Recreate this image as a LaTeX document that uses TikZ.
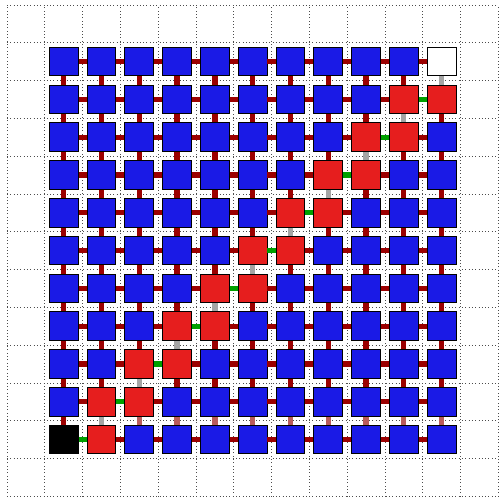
\documentclass[tikz,border=0pt]{standalone}
\definecolor{cellblue}{RGB}{26,26,230}
\definecolor{cellred}{RGB}{230,30,30}
\definecolor{linkred}{RGB}{155,0,0}
\definecolor{linkpale}{RGB}{185,92,92}
\definecolor{linkgreen}{RGB}{0,160,0}
\definecolor{linkgray}{RGB}{165,165,165}
\tikzset{
	cell/.style = {draw = black, line width = 0.7pt, minimum size = 0.76cm, inner sep = 0pt},
	link/.style = {line width = 0.14cm},
}
\begin{document}
\begin{tikzpicture}
		\useasboundingbox (-0.185,-0.10) rectangle (13.02,13.13);
		\draw [dotted, black!70, line width = 0.5pt] (0,0) grid (13,13);
		% squares, row 1 on top
		\foreach \r in {1,...,11} {
			\foreach \c in {1,...,11} {
				\pgfmathsetmacro{\tone}{ifthenelse(\r==1 && \c==11, "white", ifthenelse(\r==11 && \c==1, "black", ifthenelse(\c+\r==12 || \c+\r==13, "cellred", "cellblue")))}
				\node [cell, fill = \tone] (c\c-\r) at (\c+0.5, 12.5-\r) {};
			}
		}
		% links along rows
		\foreach \r in {1,...,11} {
			\foreach \c in {1,...,10} {
				\pgfmathtruncatemacro{\n}{\c+1}
				\pgfmathsetmacro{\hue}{ifthenelse(\c+\r==12, "linkgreen", "linkred")}
				\draw [link, \hue] (c\c-\r) -- (c\n-\r);
			}
		}
		% links along columns
		\foreach \r in {1,...,10} {
			\foreach \c in {1,...,11} {
				\pgfmathtruncatemacro{\n}{\r+1}
				\pgfmathsetmacro{\hue}{ifthenelse(\c+\r==12, "linkgray", ifthenelse(\r==10 && \c>2, "linkpale", "linkred"))}
				\draw [link, \hue] (c\c-\r) -- (c\c-\n);
			}
		}
	\end{tikzpicture}
\end{document}
